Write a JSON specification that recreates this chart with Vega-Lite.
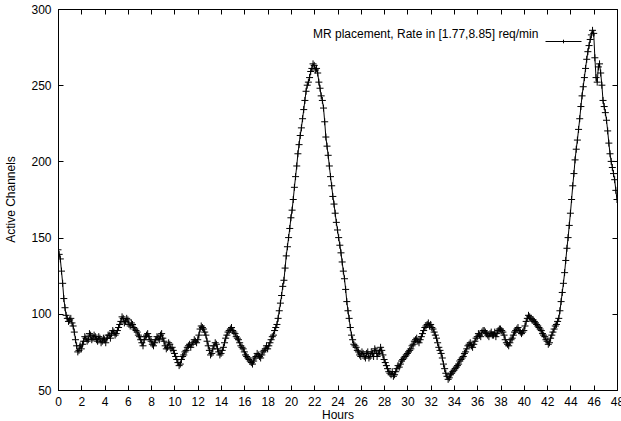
{
  "$schema": "https://vega.github.io/schema/vega-lite/v6.json",
  "width": 559,
  "height": 381,
  "autosize": "none",
  "padding": {"left": 58, "top": 9, "right": 4, "bottom": 31},
  "background": "white",
  "config": {
    "font": "Liberation Sans",
    "view": {"stroke": "black", "strokeWidth": 1},
    "axis": {"labelFont": "Liberation Sans", "labelFontSize": 12, "labelColor": "black", "titleFont": "Liberation Sans", "titleFontSize": 12, "titleFontWeight": "normal", "titleColor": "black", "domainColor": "black", "tickColor": "black", "grid": false}
  },
  "data": {"values": [
    {"h":0.0,"v":142},{"h":0.2,"v":136},{"h":0.4,"v":120},{"h":0.6,"v":104},{"h":0.8,"v":97},{"h":1.0,"v":96},{"h":1.2,"v":94},{"h":1.4,"v":88},{"h":1.6,"v":79},{"h":1.8,"v":76},
    {"h":2.0,"v":77},{"h":2.2,"v":82},{"h":2.4,"v":84},{"h":2.6,"v":83},{"h":2.8,"v":86},{"h":3.0,"v":84},{"h":3.2,"v":85},{"h":3.4,"v":82},{"h":3.6,"v":84},{"h":3.8,"v":82},
    {"h":4.0,"v":83},{"h":4.2,"v":84},{"h":4.4,"v":86},{"h":4.6,"v":87},{"h":4.8,"v":88},{"h":5.0,"v":87},{"h":5.2,"v":91},{"h":5.4,"v":95},{"h":5.6,"v":97},{"h":5.8,"v":95},
    {"h":6.0,"v":96},{"h":6.2,"v":92},{"h":6.4,"v":93},{"h":6.6,"v":90},{"h":6.8,"v":88},{"h":7.0,"v":85},{"h":7.2,"v":81},{"h":7.4,"v":83},{"h":7.6,"v":86},{"h":7.8,"v":85},
    {"h":8.0,"v":82},{"h":8.2,"v":79},{"h":8.4,"v":83},{"h":8.6,"v":84},{"h":8.8,"v":86},{"h":9.0,"v":84},{"h":9.2,"v":79},{"h":9.4,"v":78},{"h":9.6,"v":80},{"h":9.8,"v":78},
    {"h":10.0,"v":74},{"h":10.2,"v":70},{"h":10.4,"v":66},{"h":10.6,"v":70},{"h":10.8,"v":73},{"h":11.0,"v":76},{"h":11.2,"v":79},{"h":11.4,"v":78},{"h":11.6,"v":81},{"h":11.8,"v":82},
    {"h":12.0,"v":83},{"h":12.2,"v":90},{"h":12.4,"v":91},{"h":12.6,"v":88},{"h":12.8,"v":82},{"h":13.0,"v":76},{"h":13.2,"v":74},{"h":13.4,"v":79},{"h":13.6,"v":80},{"h":13.8,"v":75},
    {"h":14.0,"v":74},{"h":14.2,"v":78},{"h":14.4,"v":84},{"h":14.6,"v":88},{"h":14.8,"v":90},{"h":15.0,"v":89},{"h":15.2,"v":87},{"h":15.4,"v":84},{"h":15.6,"v":81},{"h":15.8,"v":78},
    {"h":16.0,"v":75},{"h":16.2,"v":72},{"h":16.4,"v":70},{"h":16.6,"v":68},{"h":16.8,"v":69},{"h":17.0,"v":72},{"h":17.2,"v":73},{"h":17.4,"v":71},{"h":17.6,"v":75},{"h":17.8,"v":77},
    {"h":18.0,"v":77},{"h":18.2,"v":81},{"h":18.4,"v":85},{"h":18.6,"v":89},{"h":18.8,"v":93},{"h":19.0,"v":102},{"h":19.2,"v":112},{"h":19.4,"v":122},{"h":19.6,"v":138},{"h":19.8,"v":150},
    {"h":20.0,"v":163},{"h":20.2,"v":175},{"h":20.4,"v":190},{"h":20.6,"v":205},{"h":20.8,"v":217},{"h":21.0,"v":228},{"h":21.2,"v":240},{"h":21.4,"v":250},{"h":21.6,"v":255},{"h":21.8,"v":261},
    {"h":22.0,"v":263},{"h":22.2,"v":261},{"h":22.4,"v":252},{"h":22.6,"v":243},{"h":22.8,"v":235},{"h":23.0,"v":216},{"h":23.2,"v":204},{"h":23.4,"v":190},{"h":23.6,"v":177},{"h":23.8,"v":166},
    {"h":24.0,"v":155},{"h":24.2,"v":145},{"h":24.4,"v":134},{"h":24.6,"v":123},{"h":24.8,"v":108},{"h":25.0,"v":97},{"h":25.2,"v":86},{"h":25.4,"v":80},{"h":25.6,"v":78},{"h":25.8,"v":75},
    {"h":26.0,"v":72},{"h":26.2,"v":74},{"h":26.4,"v":71},{"h":26.6,"v":75},{"h":26.8,"v":72},{"h":27.0,"v":74},{"h":27.2,"v":77},{"h":27.4,"v":72},{"h":27.6,"v":75},{"h":27.8,"v":76},
    {"h":28.0,"v":70},{"h":28.2,"v":66},{"h":28.4,"v":62},{"h":28.6,"v":60},{"h":28.8,"v":59},{"h":29.0,"v":62},{"h":29.2,"v":66},{"h":29.4,"v":67},{"h":29.6,"v":70},{"h":29.8,"v":72},
    {"h":30.0,"v":74},{"h":30.2,"v":76},{"h":30.4,"v":79},{"h":30.6,"v":82},{"h":30.8,"v":84},{"h":31.0,"v":81},{"h":31.2,"v":85},{"h":31.4,"v":89},{"h":31.6,"v":92},{"h":31.8,"v":94},
    {"h":32.0,"v":93},{"h":32.2,"v":90},{"h":32.4,"v":86},{"h":32.6,"v":81},{"h":32.8,"v":76},{"h":33.0,"v":71},{"h":33.2,"v":64},{"h":33.4,"v":59},{"h":33.6,"v":58},{"h":33.8,"v":61},
    {"h":34.0,"v":63},{"h":34.2,"v":65},{"h":34.4,"v":67},{"h":34.6,"v":70},{"h":34.8,"v":72},{"h":35.0,"v":75},{"h":35.2,"v":79},{"h":35.4,"v":81},{"h":35.6,"v":78},{"h":35.8,"v":82},
    {"h":36.0,"v":85},{"h":36.2,"v":86},{"h":36.4,"v":88},{"h":36.6,"v":89},{"h":36.8,"v":87},{"h":37.0,"v":85},{"h":37.2,"v":88},{"h":37.4,"v":86},{"h":37.6,"v":85},{"h":37.8,"v":89},
    {"h":38.0,"v":90},{"h":38.2,"v":88},{"h":38.4,"v":83},{"h":38.6,"v":80},{"h":38.8,"v":81},{"h":39.0,"v":84},{"h":39.2,"v":88},{"h":39.4,"v":90},{"h":39.6,"v":89},{"h":39.8,"v":87},
    {"h":40.0,"v":89},{"h":40.2,"v":95},{"h":40.4,"v":99},{"h":40.6,"v":97},{"h":40.8,"v":96},{"h":41.0,"v":94},{"h":41.2,"v":92},{"h":41.4,"v":90},{"h":41.6,"v":87},{"h":41.8,"v":85},
    {"h":42.0,"v":82},{"h":42.2,"v":81},{"h":42.4,"v":86},{"h":42.6,"v":90},{"h":42.8,"v":93},{"h":43.0,"v":97},{"h":43.2,"v":108},{"h":43.4,"v":120},{"h":43.6,"v":135},{"h":43.8,"v":150},
    {"h":44.0,"v":166},{"h":44.2,"v":184},{"h":44.4,"v":201},{"h":44.6,"v":214},{"h":44.8,"v":228},{"h":45.0,"v":243},{"h":45.2,"v":255},{"h":45.4,"v":267},{"h":45.6,"v":276},{"h":45.8,"v":283},
    {"h":46.0,"v":284},{"h":46.2,"v":255},{"h":46.4,"v":262},{"h":46.6,"v":258},{"h":46.8,"v":240},{"h":47.0,"v":232},{"h":47.2,"v":220},{"h":47.4,"v":205},{"h":47.6,"v":196},{"h":47.8,"v":188},
    {"h":48.0,"v":175},
    {"h":0.1,"v":139},{"h":0.3,"v":128},{"h":0.5,"v":110},{"h":0.7,"v":99},{"h":0.9,"v":95},{"h":1.1,"v":97},{"h":1.3,"v":92},{"h":1.5,"v":83},{"h":1.7,"v":75},{"h":1.9,"v":79},
    {"h":2.1,"v":80},{"h":2.3,"v":85},{"h":2.5,"v":82},{"h":2.7,"v":87},{"h":2.9,"v":83},{"h":3.1,"v":86},{"h":3.3,"v":83},{"h":3.5,"v":85},{"h":3.7,"v":81},{"h":3.9,"v":84},
    {"h":4.1,"v":81},{"h":4.3,"v":86},{"h":4.5,"v":84},{"h":4.7,"v":89},{"h":4.9,"v":86},{"h":5.1,"v":89},{"h":5.3,"v":93},{"h":5.5,"v":98},{"h":5.7,"v":94},{"h":5.9,"v":97},
    {"h":6.1,"v":93},{"h":6.3,"v":94},{"h":6.5,"v":91},{"h":6.7,"v":89},{"h":6.9,"v":86},{"h":7.1,"v":83},{"h":7.3,"v":79},{"h":7.5,"v":85},{"h":7.7,"v":87},{"h":7.9,"v":83},
    {"h":8.1,"v":80},{"h":8.3,"v":81},{"h":8.5,"v":85},{"h":8.7,"v":83},{"h":8.9,"v":87},{"h":9.1,"v":82},{"h":9.3,"v":77},{"h":9.5,"v":81},{"h":9.7,"v":77},{"h":9.9,"v":76},
    {"h":10.1,"v":72},{"h":10.3,"v":68},{"h":10.5,"v":67},{"h":10.7,"v":72},{"h":10.9,"v":75},{"h":11.1,"v":78},{"h":11.3,"v":80},{"h":11.5,"v":80},{"h":11.7,"v":83},{"h":11.9,"v":81},
    {"h":12.1,"v":86},{"h":12.3,"v":92},{"h":12.5,"v":90},{"h":12.7,"v":86},{"h":12.9,"v":79},{"h":13.1,"v":73},{"h":13.3,"v":77},{"h":13.5,"v":81},{"h":13.7,"v":77},{"h":13.9,"v":73},
    {"h":14.1,"v":76},{"h":14.3,"v":81},{"h":14.5,"v":86},{"h":14.7,"v":89},{"h":14.9,"v":91},{"h":15.1,"v":88},{"h":15.3,"v":85},{"h":15.5,"v":83},{"h":15.7,"v":79},{"h":15.9,"v":77},
    {"h":16.1,"v":73},{"h":16.3,"v":71},{"h":16.5,"v":69},{"h":16.7,"v":67},{"h":16.9,"v":71},{"h":17.1,"v":74},{"h":17.3,"v":72},{"h":17.5,"v":73},{"h":17.7,"v":76},{"h":17.9,"v":79},
    {"h":18.1,"v":79},{"h":18.3,"v":83},{"h":18.5,"v":86},{"h":18.7,"v":91},{"h":18.9,"v":97},{"h":19.1,"v":107},{"h":19.3,"v":118},{"h":19.5,"v":130},{"h":19.7,"v":144},{"h":19.9,"v":156},
    {"h":20.1,"v":168},{"h":20.3,"v":183},{"h":20.5,"v":197},{"h":20.7,"v":211},{"h":20.9,"v":222},{"h":21.1,"v":234},{"h":21.3,"v":246},{"h":21.5,"v":252},{"h":21.7,"v":259},{"h":21.9,"v":264},
    {"h":22.1,"v":260},{"h":22.3,"v":258},{"h":22.5,"v":248},{"h":22.7,"v":240},{"h":22.9,"v":226},{"h":23.1,"v":210},{"h":23.3,"v":197},{"h":23.5,"v":184},{"h":23.7,"v":172},{"h":23.9,"v":160},
    {"h":24.1,"v":150},{"h":24.3,"v":140},{"h":24.5,"v":128},{"h":24.7,"v":116},{"h":24.9,"v":102},{"h":25.1,"v":91},{"h":25.3,"v":83},{"h":25.5,"v":79},{"h":25.7,"v":76},{"h":25.9,"v":73},
    {"h":26.1,"v":75},{"h":26.3,"v":72},{"h":26.5,"v":74},{"h":26.7,"v":71},{"h":26.9,"v":75},{"h":27.1,"v":72},{"h":27.3,"v":76},{"h":27.5,"v":74},{"h":27.7,"v":78},{"h":27.9,"v":73},
    {"h":28.1,"v":68},{"h":28.3,"v":64},{"h":28.5,"v":61},{"h":28.7,"v":62},{"h":28.9,"v":60},{"h":29.1,"v":64},{"h":29.3,"v":65},{"h":29.5,"v":69},{"h":29.7,"v":71},{"h":29.9,"v":73},
    {"h":30.1,"v":75},{"h":30.3,"v":77},{"h":30.5,"v":80},{"h":30.7,"v":83},{"h":30.9,"v":82},{"h":31.1,"v":83},{"h":31.3,"v":87},{"h":31.5,"v":91},{"h":31.7,"v":93},{"h":31.9,"v":92},
    {"h":32.1,"v":91},{"h":32.3,"v":88},{"h":32.5,"v":84},{"h":32.7,"v":78},{"h":32.9,"v":74},{"h":33.1,"v":67},{"h":33.3,"v":61},{"h":33.5,"v":57},{"h":33.7,"v":60},{"h":33.9,"v":62},
    {"h":34.1,"v":64},{"h":34.3,"v":66},{"h":34.5,"v":69},{"h":34.7,"v":71},{"h":34.9,"v":74},{"h":35.1,"v":77},{"h":35.3,"v":80},{"h":35.5,"v":79},{"h":35.7,"v":80},{"h":35.9,"v":84},
    {"h":36.1,"v":87},{"h":36.3,"v":85},{"h":36.5,"v":89},{"h":36.7,"v":88},{"h":36.9,"v":86},{"h":37.1,"v":87},{"h":37.3,"v":86},{"h":37.5,"v":88},{"h":37.7,"v":87},{"h":37.9,"v":90},
    {"h":38.1,"v":89},{"h":38.3,"v":86},{"h":38.5,"v":81},{"h":38.7,"v":79},{"h":38.9,"v":83},{"h":39.1,"v":86},{"h":39.3,"v":89},{"h":39.5,"v":91},{"h":39.7,"v":88},{"h":39.9,"v":88},
    {"h":40.1,"v":92},{"h":40.3,"v":97},{"h":40.5,"v":98},{"h":40.7,"v":96},{"h":40.9,"v":95},{"h":41.1,"v":93},{"h":41.3,"v":91},{"h":41.5,"v":89},{"h":41.7,"v":86},{"h":41.9,"v":83},
    {"h":42.1,"v":80},{"h":42.3,"v":84},{"h":42.5,"v":88},{"h":42.7,"v":92},{"h":42.9,"v":95},{"h":43.1,"v":102},{"h":43.3,"v":114},{"h":43.5,"v":127},{"h":43.7,"v":143},{"h":43.9,"v":158},
    {"h":44.1,"v":175},{"h":44.3,"v":192},{"h":44.5,"v":208},{"h":44.7,"v":221},{"h":44.9,"v":236},{"h":45.1,"v":249},{"h":45.3,"v":261},{"h":45.5,"v":272},{"h":45.7,"v":280},{"h":45.9,"v":286},
    {"h":46.1,"v":268},{"h":46.3,"v":252},{"h":46.5,"v":264},{"h":46.7,"v":250},{"h":46.9,"v":236},{"h":47.1,"v":227},{"h":47.3,"v":212},{"h":47.5,"v":200},{"h":47.7,"v":192},{"h":47.9,"v":181}
  ]},
  "resolve": {"axis": {"x": "independent", "y": "independent"}},
  "layer": [
    {
      "mark": {"type": "line", "strokeWidth": 1, "clip": true},
      "encoding": {
        "x": {"field": "h", "type": "quantitative", "scale": {"domain": [0, 48], "nice": false, "zero": false},
              "axis": {"orient": "bottom", "title": "Hours", "values": [0,2,4,6,8,10,12,14,16,18,20,22,24,26,28,30,32,34,36,38,40,42,44,46,48], "tickSize": -5, "labelPadding": 11, "titlePadding": 2, "labelFlush": false, "labelOverlap": false}},
        "y": {"field": "v", "type": "quantitative", "scale": {"domain": [50, 300], "nice": false, "zero": false},
              "axis": {"orient": "left", "title": "Active Channels", "values": [50,100,150,200,250,300], "tickSize": -5, "labelPadding": 12, "titleX": -48, "titleY": 190, "titleAngle": -90, "titleBaseline": "middle"}},
        "color": {"datum": "MR placement, Rate in [1.77,8.85] req/min", "type": "nominal",
                  "scale": {"range": ["black"]},
                  "legend": {"orient": "none", "legendX": 255, "legendY": 14, "title": "MR placement, Rate in [1.77,8.85] req/min", "titleLimit": 500, "titleOrient": "left", "titleAnchor": "middle", "titleFontSize": 12, "titleFontWeight": "normal", "titleFont": "Liberation Sans", "titleColor": "black", "titlePadding": 6, "titleBaseline": "middle", "labelExpr": "''", "symbolType": "M-1,0H1M0,-0.1V0.1M-0.1,0H0.1", "symbolSize": 1296, "symbolStrokeWidth": 1, "symbolStrokeColor": "black", "symbolFillColor": "transparent", "labelFontSize": 1}}
      }
    },
    {
      "mark": {"type": "point", "shape": "M-1,0H1M0,-1V1", "size": 49, "filled": false, "stroke": "black", "strokeWidth": 1, "opacity": 1, "clip": true},
      "encoding": {
        "x": {"field": "h", "type": "quantitative", "scale": {"domain": [0, 48], "nice": false, "zero": false},
              "axis": {"orient": "top", "title": null, "labels": false, "domain": false, "values": [0,2,4,6,8,10,12,14,16,18,20,22,24,26,28,30,32,34,36,38,40,42,44,46,48], "tickSize": -5}},
        "y": {"field": "v", "type": "quantitative", "scale": {"domain": [50, 300], "nice": false, "zero": false},
              "axis": {"orient": "right", "title": null, "labels": false, "domain": false, "values": [50,100,150,200,250,300], "tickSize": -5}}
      }
    }
  ]
}
